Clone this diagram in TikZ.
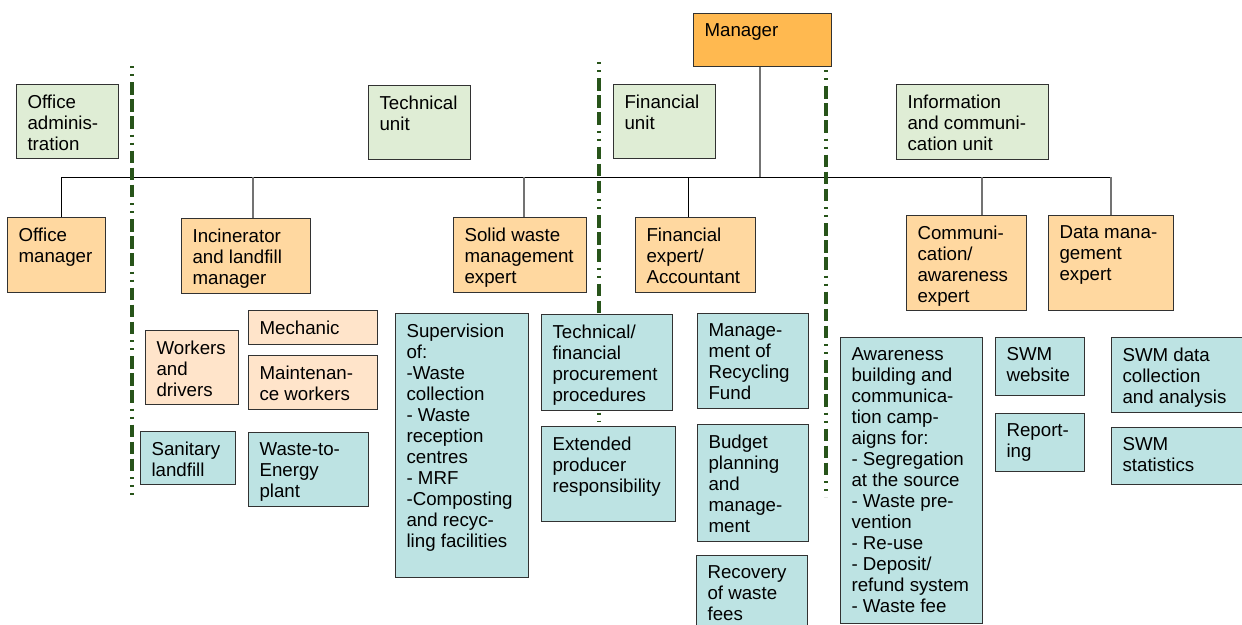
\documentclass[tikz,border=0pt]{standalone}
\usepackage{fontspec}
\setmainfont{Liberation Sans}

\definecolor{mgrcol}{RGB}{255,185,80}
\definecolor{unitcol}{RGB}{223,237,213}
\definecolor{expcol}{RGB}{255,216,160}
\definecolor{subcol}{RGB}{255,228,202}
\definecolor{taskcol}{RGB}{189,227,227}
\definecolor{edgecol}{RGB}{50,50,50}
\definecolor{divcol}{RGB}{40,84,26}
\definecolor{dropcol}{RGB}{115,115,115}

% text block of a box: width and height of the whole box in pt
\newcommand\boxtxt[3]{\parbox[t][\dimexpr#2pt-20pt\relax][t]{\dimexpr#1pt-22pt\relax}{%
  \raggedright\hyphenpenalty=10000 \exhyphenpenalty=10000 #3}}

\tikzset{
  orgbox/.style={draw=edgecol, line width=1.1pt, anchor=north west,
    inner xsep=11pt, inner ysep=10pt, font=\fontsize{18.7pt}{21pt}\selectfont},
  mgrbox/.style={orgbox, fill=mgrcol},
  unitbox/.style={orgbox, fill=unitcol},
  expbox/.style={orgbox, fill=expcol},
  subbox/.style={orgbox, fill=subcol},
  taskbox/.style={orgbox, fill=taskcol},
  busline/.style={draw=black, line width=1pt},
  dropline/.style={draw=dropcol, line width=1.5pt},
  blackdrop/.style={draw=black, line width=1pt},
  divider/.style={draw=divcol, line width=3.5pt,
    dash pattern=on 2pt off 6pt on 2pt off 6pt on 12.5pt off 4.5pt on 12.5pt off 4.5pt on 12.5pt off 6pt}
}

\begin{document}
\begin{tikzpicture}[x=1pt,y=-1pt]
\useasboundingbox (0,0) rectangle (1242,624);
\clip (0,0) rectangle (1242,624);

% points on the horizontal bus
\coordinate (b0) at (760,177);
\coordinate (b1) at (61,177);
\coordinate (b2) at (253,177);
\coordinate (b3) at (524,177);
\coordinate (b4) at (688,177);
\coordinate (b5) at (982,177);
\coordinate (b6) at (1111,177);

% ends of the unit dividers
\coordinate (v1a) at (132,66);  \coordinate (v1b) at (132,495);
\coordinate (v2a) at (599,62);  \coordinate (v2b) at (599,422);
\coordinate (v3a) at (826,70);  \coordinate (v3b) at (826,497);

% top level
\node[mgrbox] (mgr) at (693,13) {\boxtxt{138}{53}{Manager}};

% units
\node[unitbox] (uoff)  at (16,84)  {\boxtxt{102}{74}{Office\\adminis-\\tration}};
\node[unitbox] (utech) at (368,85) {\boxtxt{102}{74}{Technical\\unit}};
\node[unitbox] (ufin)  at (613,84) {\boxtxt{102}{74}{Financial\\unit}};
\node[unitbox] (uinfo) at (896,84) {\boxtxt{152}{75}{Information\\and communi-\\cation unit}};

% connectors
\draw[dropline] (mgr.south -| b0) -- (b0);
\draw[busline] (b1) -- (b6);

% dividers between the units
\draw[divider] (v1a) -- (v1b);
\draw[divider] (v2a) -- (v2b);
\draw[divider] (v3a) -- (v3b);

% experts
\node[expbox] (eoff) at (7,217)    {\boxtxt{98}{75}{Office\\manager}};
\node[expbox] (einc) at (181,218)  {\boxtxt{129}{75}{Incinerator\\and landfill\\manager}};
\node[expbox] (esw)  at (453,217)  {\boxtxt{133}{75}{Solid waste\\management\\expert}};
\node[expbox] (efin) at (635,217)  {\boxtxt{120}{75}{Financial\\expert/\\Accountant}};
\node[expbox] (ecom) at (906,215)  {\boxtxt{120}{95}{Communi-\\cation/\\awareness\\expert}};
\node[expbox] (edat) at (1048,215) {\boxtxt{125}{95}{Data mana-\\gement\\expert}};

\draw[blackdrop] (b1) -- (b1 |- eoff.north);
\draw[dropline]  (b2) -- (b2 |- einc.north);
\draw[dropline]  (b3) -- (b3 |- esw.north);
\draw[blackdrop] (b4) -- (b4 |- efin.north);
\draw[dropline]  (b5) -- (b5 |- ecom.north);
\draw[dropline]  (b6) -- (b6 |- edat.north);

% staff
\node[subbox] (wrk)  at (145,330) {\boxtxt{93}{74}{Workers\\and\\drivers}};
\node[subbox] (mech) at (248,310) {\boxtxt{129}{32}{Mechanic}};
\node[subbox] (mnt)  at (248,355) {\boxtxt{129}{54}{Maintenan-\\ce workers}};

% tasks
\node[taskbox] (san)   at (140,431)  {\boxtxt{95}{53}{Sanitary\\landfill}};
\node[taskbox] (wte)   at (248,432)  {\boxtxt{120}{74}{Waste-to-\\Energy\\plant}};
\node[taskbox] (sup)   at (395,313)  {\boxtxt{133}{264}{Supervision\\of:\\-Waste\\collection\\- Waste\\reception\\centres\\- MRF\\-Composting\\and recyc-\\ling facilities}};
\node[taskbox] (proc)  at (541,314)  {\boxtxt{131}{96}{Technical/\\financial\\procurement\\procedures}};
\node[taskbox] (epr)   at (541,426)  {\boxtxt{134}{95}{Extended\\producer\\responsibility}};
\node[taskbox] (rfund) at (697,313)  {\boxtxt{111}{95}{Manage-\\ment of\\Recycling\\Fund}};
\node[taskbox] (budg)  at (697,424)  {\boxtxt{111}{117}{Budget\\planning\\and\\manage-\\ment}};
\node[taskbox] (recov) at (696,555)  {\boxtxt{111}{84}{Recovery\\of waste\\fees}};
\node[taskbox] (awr)   at (840,337)  {\boxtxt{142}{286}{Awareness\\building and\\communica-\\tion camp-\\aigns for:\\- Segregation\\at the source\\- Waste pre-\\vention\\- Re-use\\- Deposit/\\refund system\\- Waste fee}};
\node[taskbox] (web)   at (995,337)  {\boxtxt{89}{58}{SWM\\website}};
\node[taskbox] (rep)   at (995,413)  {\boxtxt{89}{58}{Report-\\ing}};
\node[taskbox] (sdat)  at (1111,337) {\boxtxt{140}{75}{SWM data\\collection\\and analysis}};
\node[taskbox] (sstat) at (1111,427) {\boxtxt{140}{57}{SWM\\statistics}};
\end{tikzpicture}
\end{document}
